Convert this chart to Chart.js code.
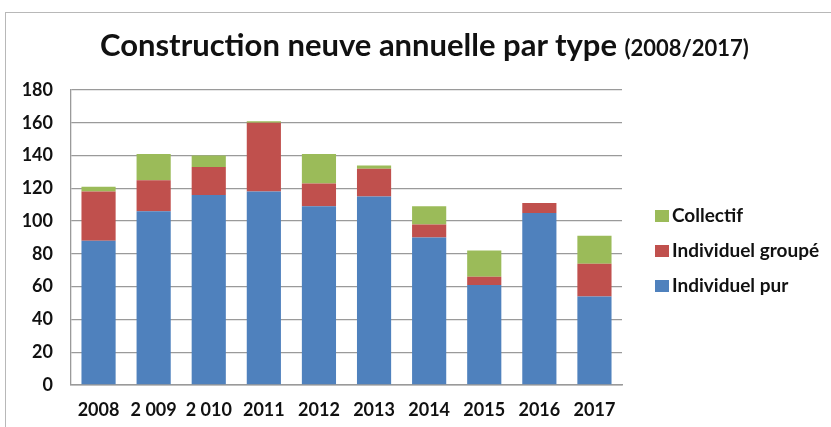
<!DOCTYPE html>
<html>
<head>
<meta charset="utf-8">
<script src="https://cdn.jsdelivr.net/npm/chart.js@4.4.1/dist/chart.umd.min.js"></script>
<style>
    body { margin: 0; background: #fff; }
    #wrap { position: relative; width: 831px; height: 427px; overflow: hidden; }
    #frame {
        position: absolute; left: 5px; top: 12px; width: 900px; height: 500px;
        border: 1px solid #b8b8b8; box-sizing: border-box;
    }
    #title {
        position: absolute; left: 100px; top: 26px; white-space: nowrap;
        font-family: Lato, sans-serif; font-weight: bold; color: #111;
        font-size: 31px; line-height: 36px;
    }
    #title span { font-size: 22px; }
    #myChart { position: absolute; left: 0; top: 0; }
</style>
</head>
<body>
<div id="wrap">
    <div id="frame"></div>
    <canvas id="myChart" width="831" height="427"></canvas>
    <div id="title">Construction neuve annuelle par type <span>(2008/2017)</span></div>
</div>
<script>
// Yearly counts per housing type
const years = ['2008', '2 009', '2 010', '2011', '2012', '2013', '2014', '2015', '2016', '2017'];
const individuelPur = [88, 106, 116, 118, 109, 115, 90, 61, 105, 54];
const individuelGroupe = [30, 19, 17, 42, 14, 17, 8, 5, 6, 20];
const collectif = [3, 16, 7, 1, 18, 2, 11, 16, 0, 17];
const yTicks = [0, 20, 40, 60, 80, 100, 120, 140, 160, 180];

const labelFont = { family: 'Lato', size: 18, weight: 'bold' };

// legend drawn in the blank area right of the bars
const sideLegend = {
    id: 'sideLegend',
    afterDraw(chart) {
        const ctx = chart.ctx;
        const sets = chart.data.datasets.slice().reverse();
        ctx.save();
        ctx.font = 'bold 19px Lato';
        ctx.textBaseline = 'middle';
        sets.forEach((ds, i) => {
            const y = 216 + i * 35;
            ctx.fillStyle = ds.backgroundColor;
            ctx.fillRect(655, y - 6, 14, 12);
            ctx.fillStyle = '#111';
            ctx.fillText(ds.label, 672, y);
        });
        ctx.restore();
    }
};

const ctx = document.getElementById('myChart').getContext('2d');
window.myChart = new Chart(ctx, {
    type: 'bar',
    data: {
        labels: years,
        datasets: [
            { label: 'Individuel pur', data: individuelPur, backgroundColor: '#4f81bd' },
            { label: 'Individuel groupé', data: individuelGroupe, backgroundColor: '#c0504d' },
            { label: 'Collectif', data: collectif, backgroundColor: '#9bbb59' }
        ]
    },
    options: {
        responsive: false,
        animation: false,
        layout: { padding: { top: 90, right: 209, bottom: 0, left: 0 } },
        datasets: { bar: { categoryPercentage: 1, barPercentage: 0.62 } },
        plugins: {
            legend: { display: false },
            title: { display: false },
            tooltip: { enabled: false }
        },
        scales: {
            x: {
                stacked: true,
                afterFit: scale => { scale.height = 42; },
                grid: { display: false, drawTicks: false },
                border: { color: '#9a9a9a', width: 1.5 },
                ticks: { font: labelFont, color: '#111', padding: 14, maxRotation: 0 }
            },
            y: {
                stacked: true,
                min: 0,
                max: 180,
                afterFit: scale => { scale.width = 71; },
                afterBuildTicks: scale => { scale.ticks = yTicks.map(v => ({ value: v })); },
                grid: { color: '#9a9a9a', lineWidth: 1.3, drawTicks: false },
                border: { color: '#9a9a9a', width: 1.3 },
                ticks: { font: labelFont, color: '#111', padding: 18 }
            }
        }
    },
    plugins: [sideLegend]
});
</script>
</body>
</html>
